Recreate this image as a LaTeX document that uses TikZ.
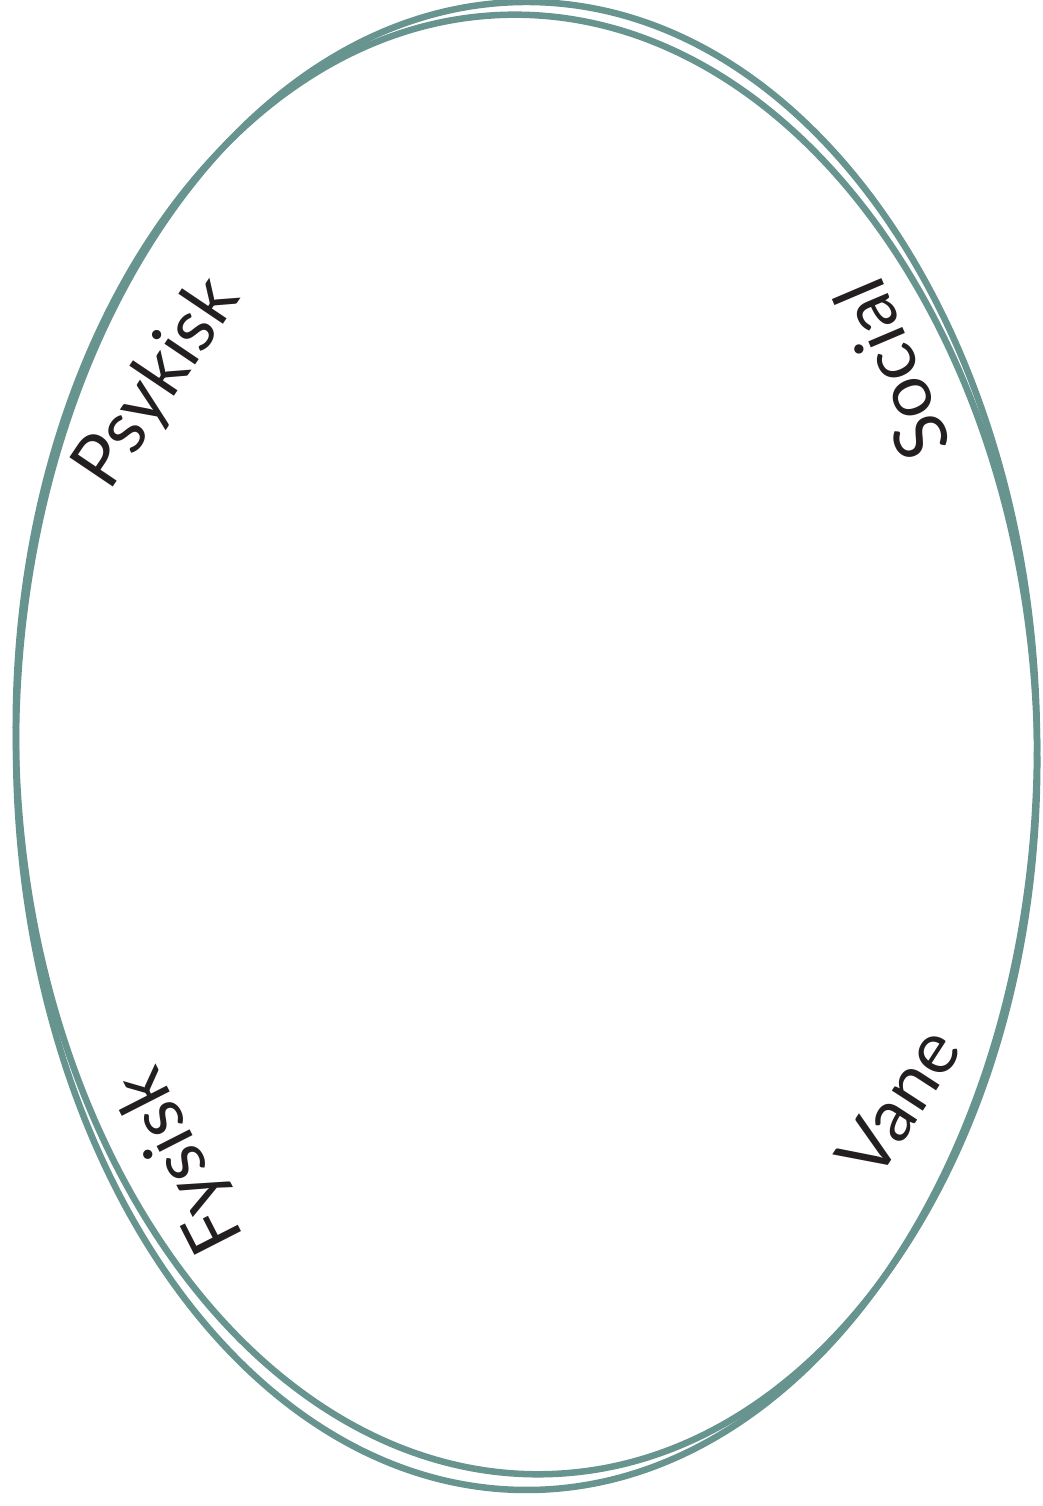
\documentclass[tikz,border=0pt]{standalone}
\usepackage{fontspec}
\setsansfont{Lato}
\usetikzlibrary{positioning}
\definecolor{ringcol}{HTML}{68948F}
\definecolor{inkcol}{HTML}{231F20}

\begin{document}
\begin{tikzpicture}[x=1pt,y=1pt,
  ring/.style={draw=ringcol,line width=6.5pt},
  dim/.style={font=\sffamily\fontsize{73}{75}\selectfont,text=inkcol,inner sep=0pt}]
  \useasboundingbox (0,0) rectangle (1042,1506);
  % outer and inner ring
  \draw[ring] (526.5,760) ellipse [x radius=510.5,y radius=744];
  \draw[ring,rotate around={1.8:(526.5,761.5)}] (526.5,761.5) ellipse [x radius=510.5,y radius=730];
  % the four labels
  \node[dim,rotate=56] (psy) at (158,1122) {Psykisk};
  \node[dim,rotate=113] (soc) at (892,1136) {Social};
  \node[dim,rotate=117] (fys) at (182,346) {Fysisk};
  \node[dim,rotate=57] (van) at (898,404) {Vane};
\end{tikzpicture}
\end{document}
